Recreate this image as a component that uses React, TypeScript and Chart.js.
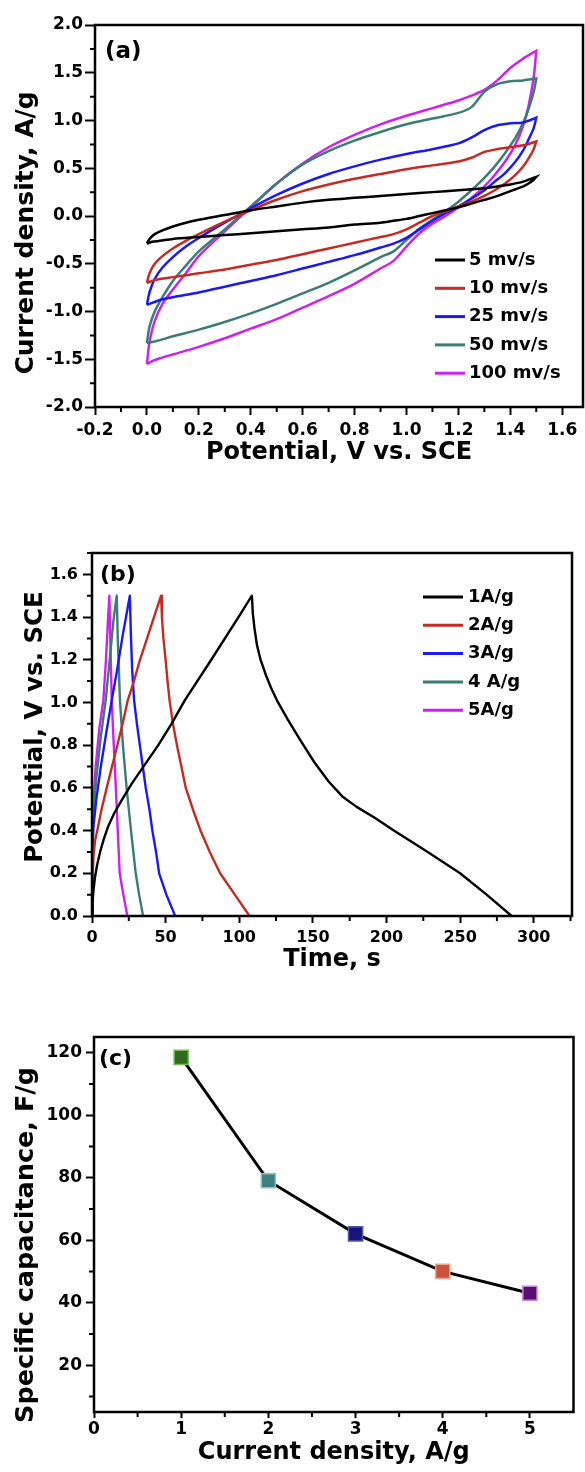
import React, { useEffect, useRef } from "react";
import { Chart, registerables } from "chart.js";

Chart.register(...registerables);
Chart.defaults.font.family = "'DejaVu Sans', sans-serif";
Chart.defaults.font.weight = "bold" as any;
Chart.defaults.color = "#000";

// ================= Panel (a): cyclic voltammograms =================
const cvForwardPotential = [0, 0.01, 0.03, 0.06, 0.1, 0.15, 0.2, 0.3, 0.4, 0.5, 0.6, 0.7, 0.8, 0.9, 1.0, 1.1, 1.2, 1.25, 1.3, 1.35, 1.4, 1.45, 1.5];
const cvReversePotential = [1.5, 1.49, 1.47, 1.45, 1.42, 1.38, 1.34, 1.3, 1.25, 1.2, 1.15, 1.1, 1.05, 1.0, 0.95, 0.9, 0.8, 0.7, 0.6, 0.5, 0.4, 0.3, 0.2, 0.1, 0.05, 0.02, 0];
const cvLabels = ["5 mv/s", "10 mv/s", "25 mv/s", "50 mv/s", "100 mv/s"];
const cv5Forward = [-0.29, -0.24, -0.19, -0.15, -0.11, -0.07, -0.04, 0.01, 0.06, 0.1, 0.14, 0.17, 0.19, 0.21, 0.23, 0.25, 0.27, 0.28, 0.29, 0.31, 0.33, 0.36, 0.41];
const cv5Reverse = [0.41, 0.38, 0.34, 0.31, 0.28, 0.24, 0.2, 0.17, 0.13, 0.09, 0.06, 0.03, 0.0, -0.03, -0.05, -0.07, -0.09, -0.12, -0.14, -0.16, -0.18, -0.2, -0.22, -0.24, -0.26, -0.27, -0.29];
const cv10Forward = [-0.7, -0.6, -0.5, -0.42, -0.34, -0.26, -0.19, -0.06, 0.06, 0.17, 0.26, 0.33, 0.39, 0.44, 0.49, 0.53, 0.57, 0.61, 0.67, 0.7, 0.72, 0.74, 0.78];
const cv10Reverse = [0.78, 0.7, 0.6, 0.52, 0.43, 0.34, 0.27, 0.21, 0.15, 0.1, 0.05, 0.0, -0.07, -0.14, -0.19, -0.22, -0.28, -0.34, -0.4, -0.46, -0.51, -0.56, -0.6, -0.64, -0.66, -0.68, -0.7];
const cv25Forward = [-0.93, -0.8, -0.66, -0.54, -0.43, -0.32, -0.23, -0.07, 0.08, 0.22, 0.34, 0.44, 0.52, 0.59, 0.65, 0.7, 0.76, 0.82, 0.9, 0.95, 0.97, 0.98, 1.03];
const cv25Reverse = [1.03, 0.92, 0.8, 0.69, 0.57, 0.45, 0.36, 0.27, 0.18, 0.1, 0.03, -0.05, -0.14, -0.23, -0.29, -0.33, -0.41, -0.48, -0.55, -0.62, -0.68, -0.74, -0.8, -0.85, -0.88, -0.91, -0.93];
const cv50Forward = [-1.33, -1.16, -1.0, -0.85, -0.68, -0.52, -0.37, -0.14, 0.1, 0.34, 0.54, 0.68, 0.79, 0.88, 0.96, 1.02, 1.08, 1.14, 1.3, 1.38, 1.41, 1.42, 1.44];
const cv50Reverse = [1.44, 1.3, 1.12, 0.98, 0.82, 0.66, 0.52, 0.4, 0.27, 0.15, 0.05, -0.04, -0.13, -0.25, -0.37, -0.43, -0.57, -0.7, -0.81, -0.92, -1.02, -1.11, -1.19, -1.26, -1.3, -1.32, -1.33];
const cv100Forward = [-1.55, -1.32, -1.1, -0.92, -0.77, -0.6, -0.42, -0.16, 0.09, 0.34, 0.55, 0.72, 0.85, 0.96, 1.05, 1.13, 1.21, 1.26, 1.32, 1.42, 1.55, 1.65, 1.73];
const cv100Reverse = [1.73, 1.45, 1.15, 0.95, 0.75, 0.57, 0.43, 0.31, 0.19, 0.09, 0.0, -0.08, -0.18, -0.32, -0.47, -0.55, -0.71, -0.84, -0.96, -1.08, -1.18, -1.28, -1.37, -1.45, -1.49, -1.52, -1.55];
const cvXTicks = [-0.2, 0, 0.2, 0.4, 0.6, 0.8, 1.0, 1.2, 1.4, 1.6];
const cvXMinor = [-0.1, 0.1, 0.3, 0.5, 0.7, 0.9, 1.1, 1.3, 1.5];
const cvYTicks = [-2, -1.5, -1, -0.5, 0, 0.5, 1, 1.5, 2];
const cvYMinor = [-1.75, -1.25, -0.75, -0.25, 0.25, 0.75, 1.25, 1.75];

// ================= Panel (b): galvanostatic charge/discharge =================
const gcdLabels = ["1A/g", "2A/g", "3A/g", "4 A/g", "5A/g"];
const gcd1Time = [0, 0.3, 1, 2, 3.5, 5.5, 8, 11, 15, 20, 27, 36, 45, 54, 63, 81, 99.5, 108.6, 109.2, 110.3, 112, 114.5, 118, 121.5, 125.6, 133, 141.8, 151, 160.7, 170, 180, 192, 205, 228, 250, 268, 285];
const gcd1Volt = [0, 0.06, 0.12, 0.18, 0.24, 0.3, 0.36, 0.42, 0.48, 0.54, 0.62, 0.71, 0.8, 0.9, 1.01, 1.2, 1.4, 1.5, 1.42, 1.35, 1.27, 1.2, 1.13, 1.07, 1.01, 0.92, 0.82, 0.72, 0.63, 0.56, 0.51, 0.46, 0.4, 0.3, 0.2, 0.1, 0];
const gcd2Time = [0, 0.3, 1, 2, 3.6, 6.5, 10, 13.6, 17.2, 20.8, 24.3, 28.5, 32.6, 37.4, 42.1, 46.9, 47.5, 48.5, 50, 51.3, 52.7, 55, 57.7, 60.7, 63.7, 68.5, 73.7, 80, 87, 97, 107];
const gcd2Volt = [0, 0.15, 0.28, 0.35, 0.4, 0.5, 0.6, 0.7, 0.8, 0.9, 1.01, 1.1, 1.2, 1.3, 1.4, 1.5, 1.4, 1.3, 1.2, 1.1, 1.01, 0.9, 0.8, 0.7, 0.6, 0.5, 0.4, 0.3, 0.2, 0.1, 0];
const gcd3Time = [0, 0.3, 1, 3, 6, 9.5, 13.4, 17, 21, 25.7, 26.4, 27.3, 28.6, 30.5, 32.5, 34.5, 36.5, 39, 41, 43.5, 45.6, 50.5, 56.5];
const gcd3Volt = [0, 0.3, 0.42, 0.55, 0.7, 0.85, 1.01, 1.15, 1.32, 1.5, 1.32, 1.15, 1.01, 0.9, 0.8, 0.7, 0.6, 0.5, 0.4, 0.3, 0.2, 0.1, 0];
const gcd4Time = [0, 0.2, 1, 3, 6, 9.3, 12, 14.5, 16.8, 17.5, 19, 21, 23.5, 26.5, 29.7, 32, 34.7];
const gcd4Volt = [0, 0.3, 0.48, 0.65, 0.84, 1.01, 1.2, 1.38, 1.5, 1.3, 1.01, 0.8, 0.6, 0.4, 0.2, 0.1, 0];
const gcd5Time = [0, 0.15, 0.8, 2.5, 5, 7.7, 9.5, 10.8, 11.8, 12.4, 13.4, 14.8, 16.2, 17.5, 18.8, 21.3, 24];
const gcd5Volt = [0, 0.3, 0.5, 0.7, 0.88, 1.01, 1.2, 1.38, 1.5, 1.3, 1.01, 0.8, 0.6, 0.4, 0.2, 0.1, 0];
const gcdXTicks = [0, 50, 100, 150, 200, 250, 300];
const gcdXMinor = [25, 75, 125, 175, 225, 275, 325];
const gcdYTicks = [0, 0.2, 0.4, 0.6, 0.8, 1.0, 1.2, 1.4, 1.6];
const gcdYMinor = [0.1, 0.3, 0.5, 0.7, 0.9, 1.1, 1.3, 1.5, 1.7];

// ================= Panel (c): specific capacitance =================
const currentDensity = [1, 2, 3, 4, 5];
const specificCapacitance = [118.5, 79, 62, 50, 43];
const capXTicks = [0, 1, 2, 3, 4, 5];
const capXMinor = [0.5, 1.5, 2.5, 3.5, 4.5];
const capYTicks = [20, 40, 60, 80, 100, 120];
const capYMinor = [10, 30, 50, 70, 90, 110];

// ---------------- styles ----------------
const seriesColors = ["#000000", "#c42b22", "#1a1af0", "#3b7d76", "#cc22ee"];
const markerFill = ["#2e6b1d", "#3e7f80", "#15157a", "#c9543a", "#590f6e"];
const markerEdge = ["#78b85a", "#8cc4c4", "#5555b0", "#f0a28e", "#c488e0"];
const FONT = "'DejaVu Sans', sans-serif";

function frame(width: number) {
  return {
    id: "frame",
    afterDraw(chart: any) {
      const { ctx, chartArea: a } = chart;
      ctx.save();
      ctx.strokeStyle = "#000";
      ctx.lineWidth = width;
      ctx.strokeRect(a.left, a.top, a.right - a.left, a.bottom - a.top);
      ctx.restore();
    },
  };
}

function minorTicks(xVals: number[], yVals: number[], len: number, width: number) {
  return {
    id: "minorTicks",
    afterDraw(chart: any) {
      const { ctx, chartArea, scales } = chart;
      ctx.save();
      ctx.strokeStyle = "#000";
      ctx.lineWidth = width;
      ctx.beginPath();
      for (const v of xVals) {
        if (v < scales.x.min || v > scales.x.max) continue;
        const px = scales.x.getPixelForValue(v);
        ctx.moveTo(px, chartArea.bottom);
        ctx.lineTo(px, chartArea.bottom + len);
      }
      for (const v of yVals) {
        if (v < scales.y.min || v > scales.y.max) continue;
        const py = scales.y.getPixelForValue(v);
        ctx.moveTo(chartArea.left, py);
        ctx.lineTo(chartArea.left - len, py);
      }
      ctx.stroke();
      ctx.restore();
    },
  };
}

type TextItem = { text: string; x: number; y: number; size: number; rotate?: boolean; align?: CanvasTextAlign };
function textItems(items: TextItem[]) {
  return {
    id: "textItems",
    afterDraw(chart: any) {
      const ctx = chart.ctx;
      for (const t of items) {
        ctx.save();
        ctx.font = `bold ${t.size}px ${FONT}`;
        ctx.fillStyle = "#000";
        ctx.textAlign = t.align || "left";
        ctx.textBaseline = "middle";
        ctx.translate(t.x, t.y);
        if (t.rotate) ctx.rotate(-Math.PI / 2);
        ctx.fillText(t.text, 0, 0);
        ctx.restore();
      }
    },
  };
}

function lineLegend(o: { x: number; y: number; row: number; len: number; gap: number; size: number; lw: number }) {
  return {
    id: "lineLegend",
    afterDraw(chart: any) {
      const ctx = chart.ctx;
      chart.data.datasets.forEach((ds: any, i: number) => {
        const y = o.y + i * o.row;
        ctx.save();
        ctx.strokeStyle = ds.borderColor;
        ctx.lineWidth = o.lw;
        ctx.beginPath();
        ctx.moveTo(o.x, y);
        ctx.lineTo(o.x + o.len, y);
        ctx.stroke();
        ctx.font = `bold ${o.size}px ${FONT}`;
        ctx.fillStyle = "#000";
        ctx.textBaseline = "middle";
        ctx.fillText(ds.label, o.x + o.len + o.gap, y);
        ctx.restore();
      });
    },
  };
}

function axis(p: {
  min: number; max: number; ticks: number[]; fmt: (v: number) => string; size: number;
  fit: number; horizontal: boolean; tickLength: number; padding: number;
  title?: string; titleSize?: number; titlePad?: number;
}) {
  return {
    type: "linear",
    min: p.min,
    max: p.max,
    afterBuildTicks: (ax: any) => {
      ax.ticks = p.ticks.map((value) => ({ value }));
    },
    afterFit: (ax: any) => {
      if (p.horizontal) ax.height = p.fit;
      else ax.width = p.fit;
    },
    ticks: {
      callback: (v: any) => p.fmt(Number(v)),
      font: { size: p.size, weight: "bold", family: FONT },
      color: "#000",
      padding: p.padding,
      maxRotation: 0,
      autoSkip: false,
    },
    grid: { drawOnChartArea: false, drawTicks: true, tickLength: p.tickLength, tickWidth: 2, tickColor: "#000" },
    border: { display: false },
    title: p.title
      ? { display: true, text: p.title, color: "#000", font: { size: p.titleSize, weight: "bold", family: FONT }, padding: { top: 0, bottom: p.titlePad } }
      : { display: false },
  };
}

const baseOptions = {
  responsive: false,
  animation: false,
  events: [],
  plugins: { legend: { display: false }, tooltip: { enabled: false } },
};

function pts(xs: number[], ys: number[]) {
  return xs.map((x, i) => ({ x, y: ys[i] }));
}

function configA(): any {
  const fwd = [cv5Forward, cv10Forward, cv25Forward, cv50Forward, cv100Forward];
  const rev = [cv5Reverse, cv10Reverse, cv25Reverse, cv50Reverse, cv100Reverse];
  return {
    type: "line",
    data: {
      datasets: cvLabels.map((label, i) => ({
        label,
        data: [...pts(cvForwardPotential, fwd[i]), ...pts(cvReversePotential, rev[i])],
        borderColor: seriesColors[i],
        borderWidth: 2.5,
        pointRadius: 0,
        tension: 0.3,
        fill: false,
      })),
    },
    options: {
      ...baseOptions,
      layout: { padding: { top: 25, right: 2, left: 0, bottom: 0 } },
      scales: {
        x: axis({ min: -0.2, max: 1.68, ticks: cvXTicks, fmt: (v) => v.toFixed(1), size: 17, fit: 73, horizontal: true, tickLength: 8, padding: 5, title: "Potential, V vs. SCE", titleSize: 24, titlePad: 12.6 }),
        y: axis({ min: -2, max: 2, ticks: cvYTicks, fmt: (v) => v.toFixed(1), size: 17, fit: 95, horizontal: false, tickLength: 10, padding: 2 }),
      },
    },
    plugins: [
      minorTicks(cvXMinor, cvYMinor, 5, 2),
      frame(2.5),
      lineLegend({ x: 435, y: 260, row: 28.3, len: 30, gap: 4, size: 18, lw: 3 }),
      textItems([
        { text: "(a)", x: 105, y: 52, size: 23 },
        { text: "Current density, A/g", x: 26, y: 233, size: 25, rotate: true, align: "center" },
      ]),
    ],
  };
}

function configB(): any {
  const times = [gcd1Time, gcd2Time, gcd3Time, gcd4Time, gcd5Time];
  const volts = [gcd1Volt, gcd2Volt, gcd3Volt, gcd4Volt, gcd5Volt];
  return {
    type: "line",
    data: {
      datasets: gcdLabels.map((label, i) => ({
        label,
        data: pts(times[i], volts[i]),
        borderColor: seriesColors[i],
        borderWidth: 2.4,
        pointRadius: 0,
        tension: 0,
        borderJoinStyle: "round",
        fill: false,
      })),
    },
    options: {
      ...baseOptions,
      layout: { padding: { top: 33, right: 13, left: 0, bottom: 0 } },
      scales: {
        x: axis({ min: 0, max: 326, ticks: gcdXTicks, fmt: (v) => String(v), size: 16, fit: 64, horizontal: true, tickLength: 7, padding: 4.8, title: "Time, s", titleSize: 24, titlePad: 5.6 }),
        y: axis({ min: 0, max: 1.7, ticks: gcdYTicks, fmt: (v) => v.toFixed(1), size: 16, fit: 92, horizontal: false, tickLength: 9, padding: 5 }),
      },
    },
    plugins: [
      minorTicks(gcdXMinor, gcdYMinor, 5, 2),
      frame(2.5),
      lineLegend({ x: 423, y: 77, row: 28.3, len: 40, gap: 5, size: 18, lw: 3 }),
      textItems([
        { text: "(b)", x: 100, y: 55, size: 22 },
        { text: "Potential, V vs. SCE", x: 36, y: 207, size: 24.5, rotate: true, align: "center" },
      ]),
    ],
  };
}

function configC(): any {
  return {
    type: "line",
    data: {
      datasets: [
        {
          label: "Specific capacitance",
          data: pts(currentDensity, specificCapacitance),
          borderColor: "#000",
          borderWidth: 3,
          tension: 0,
          pointStyle: "rect",
          pointRadius: 10,
          pointBorderWidth: 1.5,
          pointBackgroundColor: markerFill,
          pointBorderColor: markerEdge,
          fill: false,
        },
      ],
    },
    options: {
      ...baseOptions,
      layout: { padding: { top: 47, right: 3, left: 0, bottom: 0 } },
      scales: {
        x: axis({ min: 0, max: 5.5, ticks: capXTicks, fmt: (v) => String(v), size: 17, fit: 60, horizontal: true, tickLength: 6, padding: 1, title: "Current density, A/g", titleSize: 24, titlePad: 4.6 }),
        y: axis({ min: 5, max: 125, ticks: capYTicks, fmt: (v) => String(v), size: 17, fit: 94, horizontal: false, tickLength: 8, padding: 4 }),
      },
    },
    plugins: [
      minorTicks(capXMinor, capYMinor, 5, 2),
      frame(2.5),
      textItems([
        { text: "(c)", x: 99, y: 69, size: 22 },
        { text: "Specific capacitance, F/g", x: 26, y: 255, size: 25.5, rotate: true, align: "center" },
      ]),
    ],
  };
}

function Panel({ make, top, height }: { make: () => any; top: number; height: number }) {
  const ref = useRef<HTMLCanvasElement>(null);
  useEffect(() => {
    const chart = new Chart(ref.current as HTMLCanvasElement, make());
    return () => chart.destroy();
  }, []);
  return (
    <div style={{ position: "absolute", left: 0, top, width: 585, height }}>
      <canvas ref={ref} width={585} height={height} style={{ display: "block" }} />
    </div>
  );
}

export default function App() {
  return (
    <div style={{ position: "absolute", left: 0, top: 0, width: 585, height: 1472, background: "#fff" }}>
      <Panel make={configA} top={0} height={480} />
      <Panel make={configB} top={520} height={460} />
      <Panel make={configC} top={990} height={482} />
    </div>
  );
}
